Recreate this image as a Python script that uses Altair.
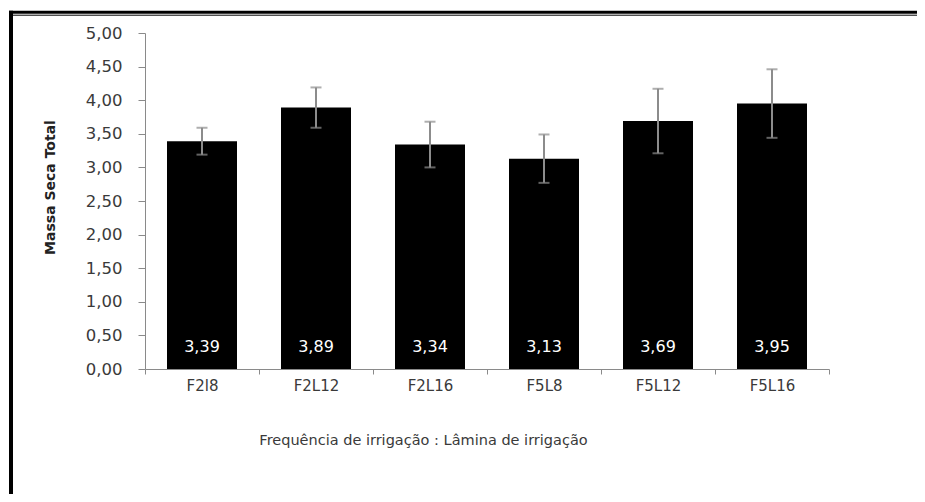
import altair as alt
import pandas as pd

categories = ["F2l8", "F2L12", "F2L16", "F5L8", "F5L12", "F5L16"]
means = [3.39, 3.89, 3.34, 3.13, 3.69, 3.95]
errors = [0.20, 0.30, 0.34, 0.36, 0.48, 0.51]
y_ticks = [0.0, 0.5, 1.0, 1.5, 2.0, 2.5, 3.0, 3.5, 4.0, 4.5, 5.0]

df = pd.DataFrame({"cat": categories, "mean": means, "err": errors})
df["lo"] = df["mean"] - df["err"]
df["hi"] = df["mean"] + df["err"]
df["label"] = df["mean"].map(lambda v: f"{v:.2f}".replace(".", ","))
df["base"] = 0.0

FONT = "DejaVu Sans"
AXIS_GRAY = "#8a8a8a"
TEXT = "#3a3a3a"

x_axis = alt.Axis(
    title="Frequência de irrigação : Lâmina de irrigação",
    labelAngle=0,
    tickBand="extent",
    tickSize=5,
    tickColor=AXIS_GRAY,
    domainColor=AXIS_GRAY,
    labelFont=FONT,
    labelFontSize=15,
    labelColor=TEXT,
    labelPadding=4,
    titleFont=FONT,
    titleFontSize=14.5,
    titleFontWeight="normal",
    titleColor=TEXT,
    titleX=278,
    titleY=71,
    titleAlign="center",
    titleBaseline="middle",
)
x_scale = alt.Scale(paddingInner=0, paddingOuter=0)

y_axis = alt.Axis(
    title="Massa Seca Total",
    values=y_ticks,
    labelExpr="replace(format(datum.value, '.2f'), '.', ',')",
    labelOverlap=False,
    grid=False,
    tickSize=7,
    tickColor=AXIS_GRAY,
    domainColor=AXIS_GRAY,
    labelFont=FONT,
    labelFontSize=16.5,
    labelColor=TEXT,
    labelPadding=16,
    titleFont=FONT,
    titleFontSize=14,
    titleFontWeight="bold",
    titleColor="#222222",
    titleAngle=-90,
    titleX=-95,
    titleY=154,
    titleAlign="center",
    titleBaseline="middle",
)
y_scale = alt.Scale(domain=[0, 5], nice=False, zero=True)


def xe():
    return alt.X("cat:N", sort=categories, scale=x_scale, axis=x_axis)


def ye(field):
    return alt.Y(field, type="quantitative", scale=y_scale, axis=y_axis)


bars = alt.Chart(df).mark_bar(color="black", size=70).encode(x=xe(), y=ye("mean"))

err_rule = alt.Chart(df).mark_rule(color="#8c8c8c", strokeWidth=2).encode(
    x=xe(), y=ye("lo"), y2="hi:Q"
)
cap_hi = alt.Chart(df).mark_tick(color="#8c8c8c", size=11, thickness=2, orient="horizontal").encode(
    x=xe(), y=ye("hi")
)
cap_lo = alt.Chart(df).mark_tick(color="#8c8c8c", size=11, thickness=2, orient="horizontal").encode(
    x=xe(), y=ye("lo")
)

labels = alt.Chart(df).mark_text(
    color="white", font=FONT, fontSize=16, baseline="middle", align="center", dy=-22
).encode(x=xe(), y=ye("base"), text="label:N")

frame_df = pd.DataFrame({"k": [0]})
top_thick = alt.Chart(frame_df).mark_rule(color="black", strokeWidth=3).encode(
    x=alt.value(-136), x2=alt.value(800), y=alt.value(-20.8)
)
top_thin = alt.Chart(frame_df).mark_rule(color="black", strokeWidth=1).encode(
    x=alt.value(-134), x2=alt.value(800), y=alt.value(-17.8)
)
left_thick = alt.Chart(frame_df).mark_rule(color="black", strokeWidth=4).encode(
    x=alt.value(-134), y=alt.value(-22.3), y2=alt.value(520)
)

chart = alt.layer(
    bars, err_rule, cap_hi, cap_lo, labels, top_thick, top_thin, left_thick
).properties(
    width=684,
    height=336,
    autosize=alt.AutoSizeParams(type="none"),
    padding={"left": 137, "top": 25, "right": 88, "bottom": 125},
).configure(background="white").configure_view(stroke=None)

chart.save("out.html", embed_options={"renderer": "svg", "actions": False})
